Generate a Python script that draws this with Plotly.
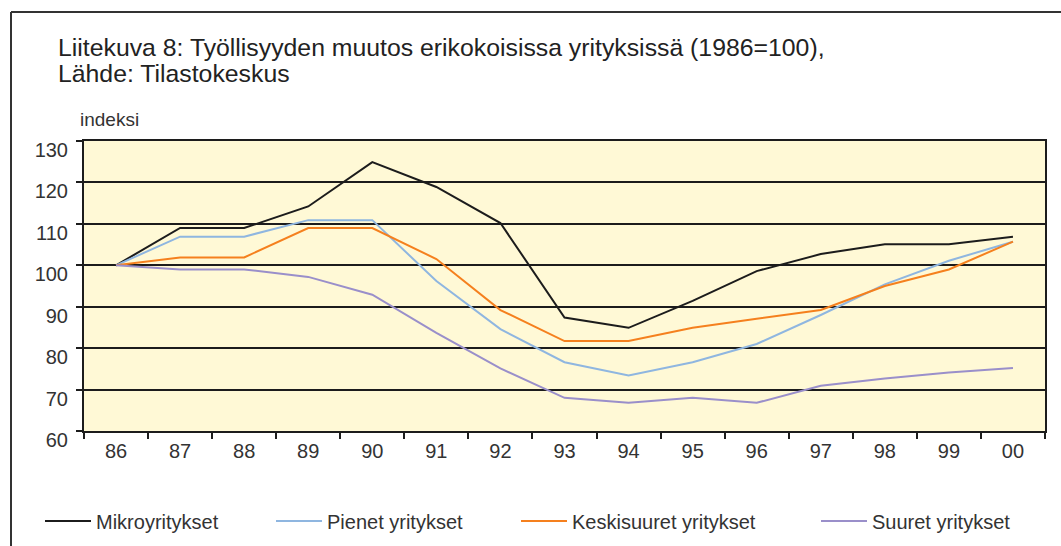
import plotly.graph_objects as go

years = ["86", "87", "88", "89", "90", "91", "92", "93", "94", "95", "96", "97", "98", "99", "00"]
mikro = [100, 109, 109, 114.2, 124.9, 118.9, 110.2, 87.4, 84.9, 91.4, 98.6, 102.7, 105.1, 105.1, 106.9]
pienet = [100, 106.9, 106.9, 110.9, 110.9, 96.2, 84.6, 76.6, 73.4, 76.6, 81.0, 88.0, 95.4, 101.1, 105.7]
keski = [100, 101.9, 101.9, 109.0, 109.0, 101.5, 89.2, 81.7, 81.7, 84.9, 87.1, 89.2, 95.0, 99.0, 105.7]
suuret = [100, 99.0, 99.0, 97.2, 92.9, 83.7, 75.1, 68.0, 66.8, 68.0, 66.8, 70.9, 72.7, 74.1, 75.2]

names = ["Mikroyritykset", "Pienet yritykset", "Keskisuuret yritykset", "Suuret yritykset"]
colors = ["#1c1c1c", "#8fb6e0", "#f5801e", "#9a8fca"]
series = [mikro, pienet, keski, suuret]
title1 = "Liitekuva 8: Työllisyyden muutos erikokoisissa yrityksissä (1986=100),"
title2 = "Lähde: Tilastokeskus"
yunit = "indeksi"

# layout in pixels
W, H = 1061, 546
L, R, T, B = 84, 1045, 141, 431
pw, ph = R - L, B - T

def px(x):
    return (x - L) / pw

def py(y):
    return (B - y) / ph

FONT = "Liberation Sans, Arial, sans-serif"

fig = go.Figure()
legend_keys = ["legend", "legend2", "legend3", "legend4"]
for name, col, vals, lk in zip(names, colors, series, legend_keys):
    fig.add_trace(go.Scatter(x=years, y=vals, mode="lines", name=name,
                             line=dict(color=col, width=2), legend=lk))

leg_x = [45, 276, 521, 821]
legend_common = dict(orientation="h", yanchor="middle", y=py(521), xanchor="left",
                     bgcolor="rgba(0,0,0,0)", font=dict(family=FONT, size=20, color="#333333"),
                     itemwidth=46, tracegroupgap=0)
layout_legends = {}
for lk, lx in zip(legend_keys, leg_x):
    d = dict(legend_common)
    d["x"] = px(lx - 5)
    layout_legends[lk] = d

fig.update_layout(
    width=W, height=H,
    margin=dict(l=L, r=W - R, t=T, b=H - B, pad=0, autoexpand=False),
    paper_bgcolor="white",
    plot_bgcolor="#fff9d6",
    showlegend=True,
    font=dict(family=FONT, size=20, color="#333333"),
    **layout_legends,
)

fig.update_xaxes(type="category", tickson="boundaries", ticks="outside", ticklen=6,
                 tickwidth=2, tickcolor="#1c1c1c", showline=True, linewidth=2,
                 linecolor="#1c1c1c", mirror=True, showgrid=False, zeroline=False,
                 ticklabelstandoff=1, automargin=False,
                 tickfont=dict(family=FONT, size=20, color="#333333"),
                 range=[-0.5, 14.5])
fig.update_yaxes(range=[60, 130], dtick=10, tick0=60, ticks="outside", ticklen=6,
                 tickwidth=2, tickcolor="#1c1c1c", showline=True, linewidth=2,
                 linecolor="#1c1c1c", mirror=True, showgrid=True, gridcolor="#1c1c1c",
                 gridwidth=1.6, zeroline=False, ticklabelposition="outside",
                 ticklabelstandoff=4, ticklabelshift=9, automargin=False,
                 tickfont=dict(family=FONT, size=20, color="#333333"))

# outer frame (left and top edges)
fig.add_shape(type="line", xref="paper", yref="paper", x0=px(11), x1=px(11),
              y0=py(12), y1=py(560), line=dict(color="#333333", width=2))
fig.add_shape(type="line", xref="paper", yref="paper", x0=px(11), x1=px(1070),
              y0=py(12), y1=py(12), line=dict(color="#333333", width=2))

fig.add_annotation(xref="paper", yref="paper", x=px(56), y=py(47), xanchor="left",
                   yanchor="middle", showarrow=False, text=title1,
                   font=dict(family=FONT, size=24.8, color="#222222"))
fig.add_annotation(xref="paper", yref="paper", x=px(56), y=py(73), xanchor="left",
                   yanchor="middle", showarrow=False, text=title2,
                   font=dict(family=FONT, size=24.8, color="#222222"))
fig.add_annotation(xref="paper", yref="paper", x=px(78), y=py(120), xanchor="left",
                   yanchor="middle", showarrow=False, text=yunit,
                   font=dict(family=FONT, size=19, color="#333333"))

fig.write_html("out.html", config={"displayModeBar": False},
               post_script="document.body.style.margin='0';")
